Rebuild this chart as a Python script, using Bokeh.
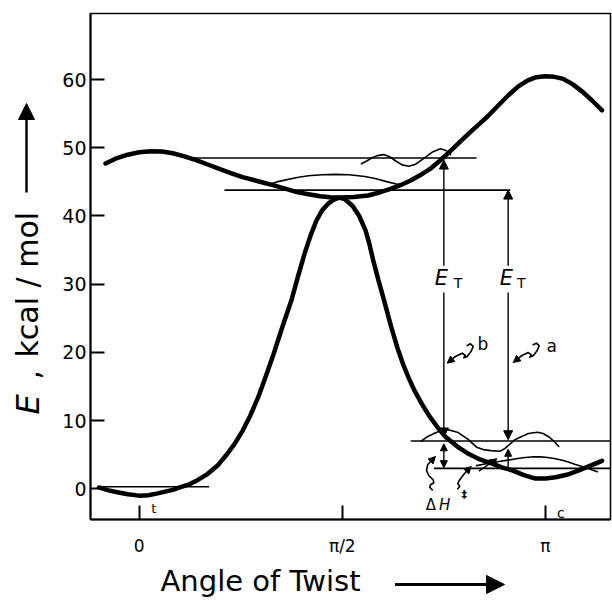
from bokeh.plotting import figure
from bokeh.layouts import row, column
from bokeh.models import Range1d, FixedTicker, Label, Arrow, NormalHead
from bokeh.embed import file_html
from bokeh.resources import INLINE

# angle of twist in degrees (0, 90 = pi/2, 180 = pi); energy in kcal/mol
ground_x = [-17.8, -14, -9.7, -5, 0, 4, 7.7, 11, 14.9, 18, 21.8, 26, 30.4, 35, 39, 42.5, 45.8,
            49.3, 52.7, 56, 59.6, 63.5, 67.6, 70.5, 73.3, 76, 78.5, 81, 83.7, 86.3, 88.5, 91,
            94.5, 97.5, 100.3, 102, 103.7, 106, 108.3, 111.7, 114.3, 116.9, 119.5, 122, 125.5,
            128.9, 132.5, 135.8, 141, 146.1, 151, 156.4, 161, 165.3, 170.5, 175.6, 180, 184.5,
            190, 194.8, 200, 205.1]
ground_y = [0.2, -0.2, -0.5, -0.8, -1.0, -0.95, -0.7, -0.45, -0.15, 0.2, 0.6, 1.3, 2.2, 3.5, 5.1,
            6.7, 8.5, 10.8, 13.4, 16.4, 19.8, 23.8, 27.8, 31.3, 34.5, 37.2, 39.3, 40.8, 41.8,
            42.4, 42.7, 42.5, 41.5, 40.0, 37.9, 35.9, 33.5, 30.6, 27.9, 23.7, 20.8, 18.3, 16.2,
            14.4, 12.3, 10.5, 8.9, 7.6, 6.2, 5.1, 4.3, 3.7, 3.1, 2.7, 2.0, 1.5, 1.5, 1.7, 2.1,
            2.7, 3.4, 4.1]

excited_x = [-14.9, -10.5, -6.1, 0, 5.2, 10, 14.9, 20, 25.2, 30.4, 35.5, 40.6, 45.8, 52.7, 59.6,
             64.7, 69.9, 75, 80.2, 84.6, 89.1, 95, 101.4, 106.5, 111.7, 116, 120.3, 124.6,
             128.9, 133.2, 137.5, 141.8, 146.1, 150.4, 154.7, 159.1, 163.6, 168, 172.2, 176,
             180, 184, 187.9, 192.2, 196.5, 200.8, 205.1]
excited_y = [47.7, 48.4, 48.9, 49.35, 49.5, 49.45, 49.2, 48.75, 48.2, 47.55, 46.9, 46.3, 45.7,
             45.1, 44.5, 44.0, 43.5, 43.2, 42.9, 42.75, 42.7, 42.8, 43.0, 43.45, 44.0, 44.55,
             45.2, 46.0, 46.9, 48.1, 49.4, 50.75, 52.1, 53.4, 54.7, 56.2, 57.7, 59.0, 59.9,
             60.35, 60.5, 60.4, 60.1, 59.3, 58.2, 56.9, 55.5]

# vibrational levels (horizontal lines)
level_y = [48.5, 43.8, 0.3, 7.0, 3.0]
level_x0 = [23, 37.8, -17.8, 120.3, 130.6]
level_x1 = [149.5, 164.4, 31, 215, 215]

# thin wavefunction sketches
lens_x = [57.3, 61, 65, 70, 75, 81, 87, 93, 100, 105, 110, 114, 117]
lens_y = [44.6, 45.0, 45.3, 45.65, 45.9, 46.05, 46.1, 46.05, 45.8, 45.45, 45.0, 44.7, 44.6]

wave_top_x = [98.5, 101, 103, 105.5, 108.3, 111, 113.5, 116.5, 119.5, 122.5, 126, 130, 133.5, 136, 138]
wave_top_y = [47.65, 48.1, 48.5, 48.85, 49.0, 48.7, 48.1, 47.5, 47.3, 47.6, 48.4, 49.4, 49.85, 49.6, 49.0]

wave_up_x = [124.9, 127.5, 130.6, 133.5, 136.9, 141, 145.5, 149.5, 152.5, 155.8, 159.9, 162, 164.4,
             166.5, 169, 172.5, 176.5, 179, 181.6, 184, 185.9]
wave_up_y = [7.0, 7.6, 8.1, 8.5, 8.65, 8.3, 7.33, 6.1, 5.75, 5.6, 5.5, 5.9, 6.6, 7.2, 7.6, 8.1,
             8.3, 8.1, 7.6, 6.9, 6.2]

wave_low_x = [149.5, 152.5, 156, 159.5, 163.3, 167, 170, 174.8, 178, 181, 184.5, 187.9, 190.5,
              193, 195.5, 198.2, 200.5, 203]
wave_low_y = [3.4, 3.6, 3.8, 4.0, 4.2, 4.4, 4.55, 4.7, 4.68, 4.6, 4.4, 4.15, 3.9, 3.6, 3.35,
              3.1, 2.8, 2.5]

# curly pointer arrows (last point = arrow tip)
curl_b_x = [145.35, 146.81, 148.01, 147.12, 145.35, 143.84, 144.59, 143.13, 140.16, 136.49]
curl_b_y = [21.01, 21.26, 20.87, 20.18, 19.40, 19.21, 19.55, 19.88, 19.40, 18.42]
curl_a_x = [174.6, 176.06, 177.26, 176.37, 174.6, 173.09, 173.84, 172.38, 169.41, 165.74]
curl_a_y = [21.11, 21.36, 20.97, 20.28, 19.5, 19.31, 19.65, 19.98, 19.5, 18.52]
curl_h1_x = [129.84, 128.77, 129.08, 130.55, 130.28, 128.33, 127.31, 127.89, 129.84, 131.30]
curl_h1_y = [-0.15, 0.23, 0.59, 0.88, 1.32, 1.95, 2.68, 3.56, 4.25, 4.74]
curl_h2_x = [141.18, 142.07, 141.18, 141.63, 142.69, 143.84, 145.35, 147.12]
curl_h2_y = [0.00, 0.34, 0.73, 1.11, 1.61, 2.10, 2.68, 3.27]

x_ticks = [0, 90, 180]
x_tick_labels = ["0", "π/2", "π"]
y_ticks = [0, 10, 20, 30, 40, 50, 60]

FONT = "DejaVu Sans"


def head(size=9):
    return NormalHead(size=size, fill_color="black", line_color="black", line_width=1)


def add_arrow(fig, x0, y0, x1, y1, end=True, start=False, size=9, lw=1.4):
    fig.add_layout(Arrow(x_start=x0, y_start=y0, x_end=x1, y_end=y1,
                         end=head(size) if end else None, start=head(size) if start else None,
                         line_width=lw, line_color="black"))


def add_label(fig, x, y, text, size, style="normal", align="center", baseline="middle", angle=0):
    fig.add_layout(Label(x=x, y=y, text=text, text_font=FONT, text_font_size=f"{size}px",
                         text_font_style=style, text_align=align, text_baseline=baseline,
                         angle=angle, text_color="black"))


def blank(width, height, xr, yr, **borders):
    f = figure(width=width, height=height, output_backend="svg", toolbar_location=None,
               x_range=Range1d(*xr), y_range=Range1d(*yr), min_border=0,
               x_axis_location=None, y_axis_location=None, title=None, **borders)
    f.outline_line_color = None
    f.grid.visible = False
    return f


# ---------------- main chart ----------------
p = figure(width=556, height=561, output_backend="svg", toolbar_location=None, title=None,
           x_range=Range1d(-21.58, 208.85), y_range=Range1d(-4.5, 69.69),
           min_border_left=34, min_border_right=2, min_border_top=13, min_border_bottom=42)
p.grid.visible = False
p.outline_line_color = "black"
p.outline_line_width = 1.5

for ax in (p.xaxis[0], p.yaxis[0]):
    ax.axis_line_width = 2
    ax.major_tick_line_width = 2
    ax.major_tick_in = 14
    ax.major_tick_out = 0
    ax.minor_tick_line_color = None
    ax.major_label_text_font = FONT
    ax.major_label_text_color = "black"

p.xaxis.ticker = FixedTicker(ticks=x_ticks)
p.xaxis.major_label_overrides = dict(zip(x_ticks, x_tick_labels))
p.xaxis.major_label_text_font_size = "17px"
p.xaxis.major_label_standoff = 16
p.yaxis.ticker = FixedTicker(ticks=y_ticks)
p.yaxis.major_label_text_font_size = "19px"
p.yaxis.major_label_standoff = 4

p.line(ground_x, ground_y, line_width=4.5, color="black", line_join="round", line_cap="round")
p.line(excited_x, excited_y, line_width=4.5, color="black", line_join="round", line_cap="round")
p.segment(x0=level_x0, y0=level_y, x1=level_x1, y1=level_y, line_width=1.6, color="black")
for xs, ys in [(lens_x, lens_y), (wave_top_x, wave_top_y), (wave_up_x, wave_up_y),
               (wave_low_x, wave_low_y), (curl_b_x[:-1], curl_b_y[:-1]), (curl_a_x[:-1], curl_a_y[:-1]),
               (curl_h1_x[:-1], curl_h1_y[:-1]), (curl_h2_x[:-1], curl_h2_y[:-1])]:
    p.line(xs, ys, line_width=1.6, color="black", line_join="round", line_cap="round")

# E_T arrows (b at 135 deg, a at 163.5 deg), split around the E_T labels
add_arrow(p, 135, 32.7, 135, 48.2)
add_arrow(p, 135, 28.8, 135, 7.6)
add_arrow(p, 163.5, 32.7, 163.5, 43.8)
add_arrow(p, 163.5, 28.8, 163.5, 7.2)
# Delta H arrows
add_arrow(p, 135, 6.6, 135, 3.1, start=True, size=7)
add_arrow(p, 163.5, 3.0, 163.5, 5.8, size=7)
add_arrow(p, 150.5, 2.6, 158.5, 4.4, size=7)
for xs, ys in [(curl_b_x, curl_b_y), (curl_a_x, curl_a_y), (curl_h1_x, curl_h1_y), (curl_h2_x, curl_h2_y)]:
    add_arrow(p, xs[-2], ys[-2], xs[-1], ys[-1], size=7, lw=1.6)

add_label(p, 133.96, 30.9, "E", 21, "italic")
add_label(p, 141.27, 30.2, "T", 14)
add_label(p, 162.67, 30.9, "E", 21, "italic")
add_label(p, 169.32, 30.2, "T", 14)
add_label(p, 152.35, 21.2, "b", 17)
add_label(p, 182.84, 20.9, "a", 17)
add_label(p, 129.3, -2.43, "Δ", 15)
add_label(p, 135.3, -2.43, "H", 15, "italic")
add_label(p, 144.0, -0.84, "‡", 11, "bold")
add_label(p, 6.47, -2.89, "t", 13)
add_label(p, 186.9, -3.58, "c", 14)

# ---------------- y-axis title panel (pixel coordinates) ----------------
left = blank(56, 600, (0, 56), (600, 0))
add_arrow(left, 26, 192, 26, 103, size=16, lw=2.5)
add_label(left, 27, 414, "E", 32, "italic", align="left", angle=1.5708)
add_label(left, 27, 379, ",", 30, align="left", angle=1.5708)
add_label(left, 27, 357, "kcal / mol", 30, align="left", angle=1.5708)

# ---------------- x-axis title panel (pixel coordinates of its frame, 90..610) ----------------
bottom = blank(556, 39, (90, 610), (600, 561), min_border_left=34, min_border_right=2)
add_label(bottom, 160, 580.5, "Angle of Twist", 29, align="left")
add_arrow(bottom, 394.5, 584, 504, 584, size=18, lw=3)

layout = row(left, column(p, bottom))
open("out.html", "w").write(file_html(layout, INLINE))
